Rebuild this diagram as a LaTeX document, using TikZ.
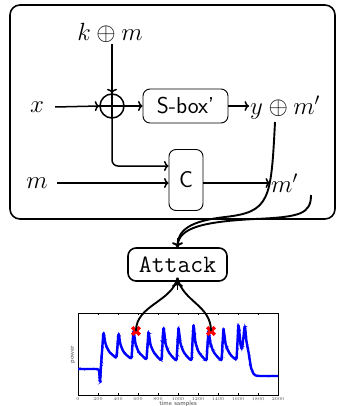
\documentclass[tikz,border=0pt]{standalone}
\usetikzlibrary{arrows.meta,decorations.pathmorphing}
\begin{document}
\begin{tikzpicture}[x=1pt,y=-1pt,
  >={To[length=4.5pt,width=10pt]},
  conn/.style={line width=1.5pt,->},
  lbl/.style={font=\fontsize{23}{27}\selectfont, inner sep=1pt},
  rbox/.style={draw, line width=0.9pt, rounded corners=7pt, font=\sffamily\fontsize{23}{27}\selectfont, inner sep=0pt},
  curve/.style={line width=1.9pt},
  sig/.style={blue, line width=2.4pt, line join=round, rounded corners=1.5pt},
]
\useasboundingbox (0,0) rectangle (341,406);
% outer box
\draw[line width=1.6pt, rounded corners=10pt] (10,5) rectangle (335,219);

% nodes
\node[lbl] (km) at (110,33) {$k\oplus m$};
\node[lbl] (x) at (37,107) {$x$};
\node[lbl] (m) at (37,183) {$m$};
\node[draw, circle, line width=1.5pt, minimum size=24pt, inner sep=0pt] (xor) at (112,106) {};
\node[rbox, minimum width=85pt, minimum height=34pt] (sbox) at (185.5,106) {S-box'};
\node[rbox, minimum width=34pt, minimum height=61pt] (C) at (186,180) {C};
\node[lbl, anchor=west] (ym) at (249,108) {$y\oplus m'$};
\node[lbl, anchor=west] (mp) at (270,183) {$m'$};
\node[draw, line width=1.6pt, rounded corners=8pt, minimum width=99pt, minimum height=33pt, inner sep=0pt, font=\ttfamily\fontsize{25}{29}\selectfont] (att) at (177.5,264.5) {Attack};

% xor cross
\draw[line width=1.5pt] (xor.west) -- (xor.east) (xor.north) -- (xor.south);

% connectors
\draw[conn] (km.south -| xor.north) -- (xor.north);
\draw[conn] (x.east) ++(10,0) -- (xor.west);
\draw[conn] (xor.east) -- (sbox.west);
\draw[conn] (sbox.east) -- (sbox.east -| ym.west);
\draw[conn, rounded corners=6pt] (xor.south) |- (C.west |- 0,166);
\draw[conn] (m.east) ++(8,0) -- (C.west |- m.east);
\draw[conn] (C.east |- mp.west) -- (mp.west);

% curves to Attack
\coordinate (c1) at (275,122);
\coordinate (c2) at (311,195);
\draw[curve] (c1) .. controls (271,200) and (270,212) .. (225,217)
   .. controls (190,221) and (177,230) .. (att.north);
\draw[curve] (c2) .. controls (311,214) and (300,217) .. (255,219)
   .. controls (195,222) and (177,230) .. ([yshift=-1pt]att.north);
\draw[line width=1.9pt, -{To[length=5pt,width=11pt]}] (177.5,238) -- (att.north);

% plot
\begin{scope}
\draw[line width=0.8pt] (78,313) rectangle (278,395);
\foreach \i in {0,...,10}{
  \pgfmathsetmacro{\xx}{78+20*\i}
  \pgfmathtruncatemacro{\lab}{200*\i}
  \draw[line width=0.4pt] (\xx,395) -- (\xx,393) (\xx,313) -- (\xx,315);
  \node[font=\fontsize{4.5}{5}\selectfont, inner sep=0pt, gray!60!black] at (\xx,399) {\lab};
}
\node[font=\sffamily\fontsize{6.5}{7}\selectfont, gray!60!black, inner sep=0pt] (tl) at (178,404) {time samples};
\node[font=\sffamily\fontsize{6.5}{7}\selectfont, gray!60!black, inner sep=0pt, rotate=90] (pl) at (73,355) {power};

% signal
\def\sigpath{(78,369) -- (99,369) -- (100,383) -- (101,366) -- (102.5,345) -- (103.5,332)
  -- (105.5,344) -- (108.5,351) -- (112.5,355) -- (116.5,358) -- (118.5,333)
  -- (120.5,345) -- (123.5,352) -- (127.5,356) -- (131.5,359) -- (133.5,330)
  -- (135.5,344) -- (138.5,352) -- (142.5,356) -- (146.5,360) -- (148.5,331)
  -- (150.5,345) -- (153.5,352) -- (157.5,357) -- (161.5,361) -- (163.5,327)
  -- (165.5,344) -- (168.5,352) -- (172.5,357) -- (176.5,361) -- (178.5,327)
  -- (180.5,344) -- (183.5,352) -- (187.5,357) -- (191.5,361) -- (193.5,324)
  -- (195.5,343) -- (198.5,352) -- (202.5,357) -- (206.5,361) -- (208.5,330)
  -- (210.5,344) -- (213.5,352) -- (217.5,357) -- (221.5,361) -- (223.5,328)
  -- (225.5,344) -- (228.5,352) -- (232.5,357) -- (236.5,360) -- (238.5,324)
  -- (240.5,345) -- (242,350) -- (244.8,325) -- (246.5,342) -- (248.5,352)
  -- (251,368) -- (254,375) -- (258,376) -- (278,376)}
\draw[sig] \sigpath;
\draw[blue, line width=0.6pt, decorate, decoration={random steps, segment length=0.8pt, amplitude=1.1pt}] \sigpath;

% red crosses
\coordinate (p1) at (136,331);
\coordinate (p2) at (211,331);
\foreach \p in {p1,p2}{
  \draw[red, line width=3.2pt] ([shift={(-3.8,-3.8)}]\p) -- ([shift={(3.8,3.8)}]\p)
     ([shift={(-3.8,3.8)}]\p) -- ([shift={(3.8,-3.8)}]\p);
}
\end{scope}

% curves from crosses to Attack
\draw[curve] (p1) .. controls (136,305) and (172,302) .. ([yshift=4pt]att.south);
\draw[curve] (p2) .. controls (211,305) and (183,302) .. ([yshift=4pt]att.south);
\draw[line width=1.9pt, -{To[length=5pt,width=11pt]}] (177.5,290) -- (att.south);
\end{tikzpicture}
\end{document}
